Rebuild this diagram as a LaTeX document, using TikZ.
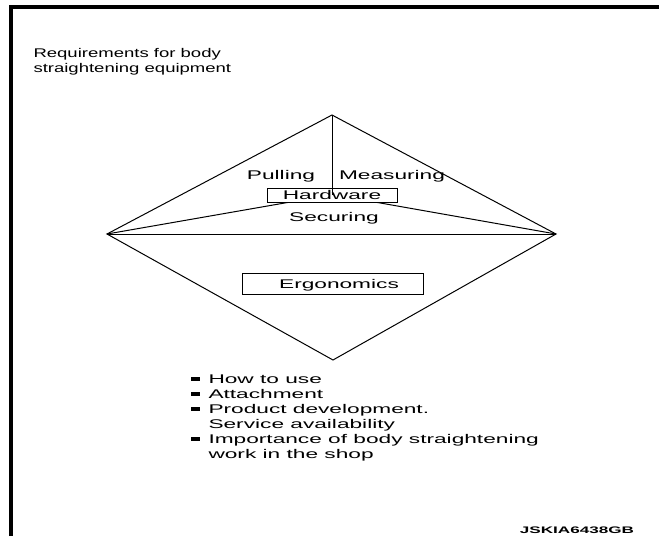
\documentclass[tikz,border=0pt]{standalone}
\usepackage{fontspec}
\setmainfont{Liberation Sans}
\newcommand{\wide}[2][1.8]{\scalebox{#1}[1]{#2}}

\begin{document}
\begin{tikzpicture}[x=1pt, y=-1pt, line width=1pt,
  every node/.style={inner sep=0pt},
  lbl/.style={font=\fontsize{12.6}{15}\selectfont, anchor=base},
  item/.style={font=\fontsize{12.6}{15}\selectfont, anchor=base west},
  box/.style={draw, line width=1pt, minimum height=14pt, font=\fontsize{12.6}{15}\selectfont},
  dot/.style={fill, minimum width=9pt, minimum height=4pt}]
\useasboundingbox (0,0) rectangle (659,536);
\draw[line width=3.5pt] (11,536) -- (11,7) -- (659,7);

\node[item] (title1) at (33,57.5) {\wide[1.47]{Requirements for body}};
\node[item] (title2) at (33,72.5) {\wide[1.47]{straightening equipment}};

% the diamond
\coordinate (top) at (332,115);
\coordinate (lft) at (107,234);
\coordinate (rgt) at (556,234);
\coordinate (bot) at (333,360);
\draw (top) -- (rgt) -- (bot) -- (lft) -- cycle;
\draw (lft) -- (rgt);

\node[box, minimum width=130pt] (hw) at (332,195) {\wide{Hardware}};
\draw (top) -- (hw.center);
\draw (lft) -- ([xshift=21pt]hw.south west);
\draw (rgt) -- ([xshift=-20pt]hw.south east);
\node[lbl] (pull) at (281,179.5) {\wide{Pulling}};
\node[lbl] (meas) at (392,179.5) {\wide{Measuring}};
\node[lbl] (sec) at (334,221.5) {\wide{Securing}};

\node[box, minimum width=181pt, minimum height=21pt] (ergo) at (332.5,283.5) {};
\node[lbl] (ergolbl) at (339,288) {\wide{Ergonomics}};

% list below
\node[dot] (d1) at (195,379) {};
\node[dot] (d2) at (195,394) {};
\node[dot] (d3) at (195,409) {};
\node[dot] (d4) at (195,439) {};
\node[item] (use) at (208,383.5) {\wide{How to use}};
\node[item] (att) at (208,398.5) {\wide{Attachment}};
\node[item] (dev) at (208,413.5) {\wide{Product development.}};
\node[item] (serv) at (208,428.5) {\wide{Service availability}};
\node[item] (imp) at (208,443.5) {\wide{Importance of body straightening}};
\node[item] (shop) at (208,458.5) {\wide{work in the shop}};

\node[font=\fontsize{9.5}{11}\selectfont\bfseries, anchor=base] (code) at (577,533.5) {\wide{JSKIA6438GB}};
\end{tikzpicture}
\end{document}
